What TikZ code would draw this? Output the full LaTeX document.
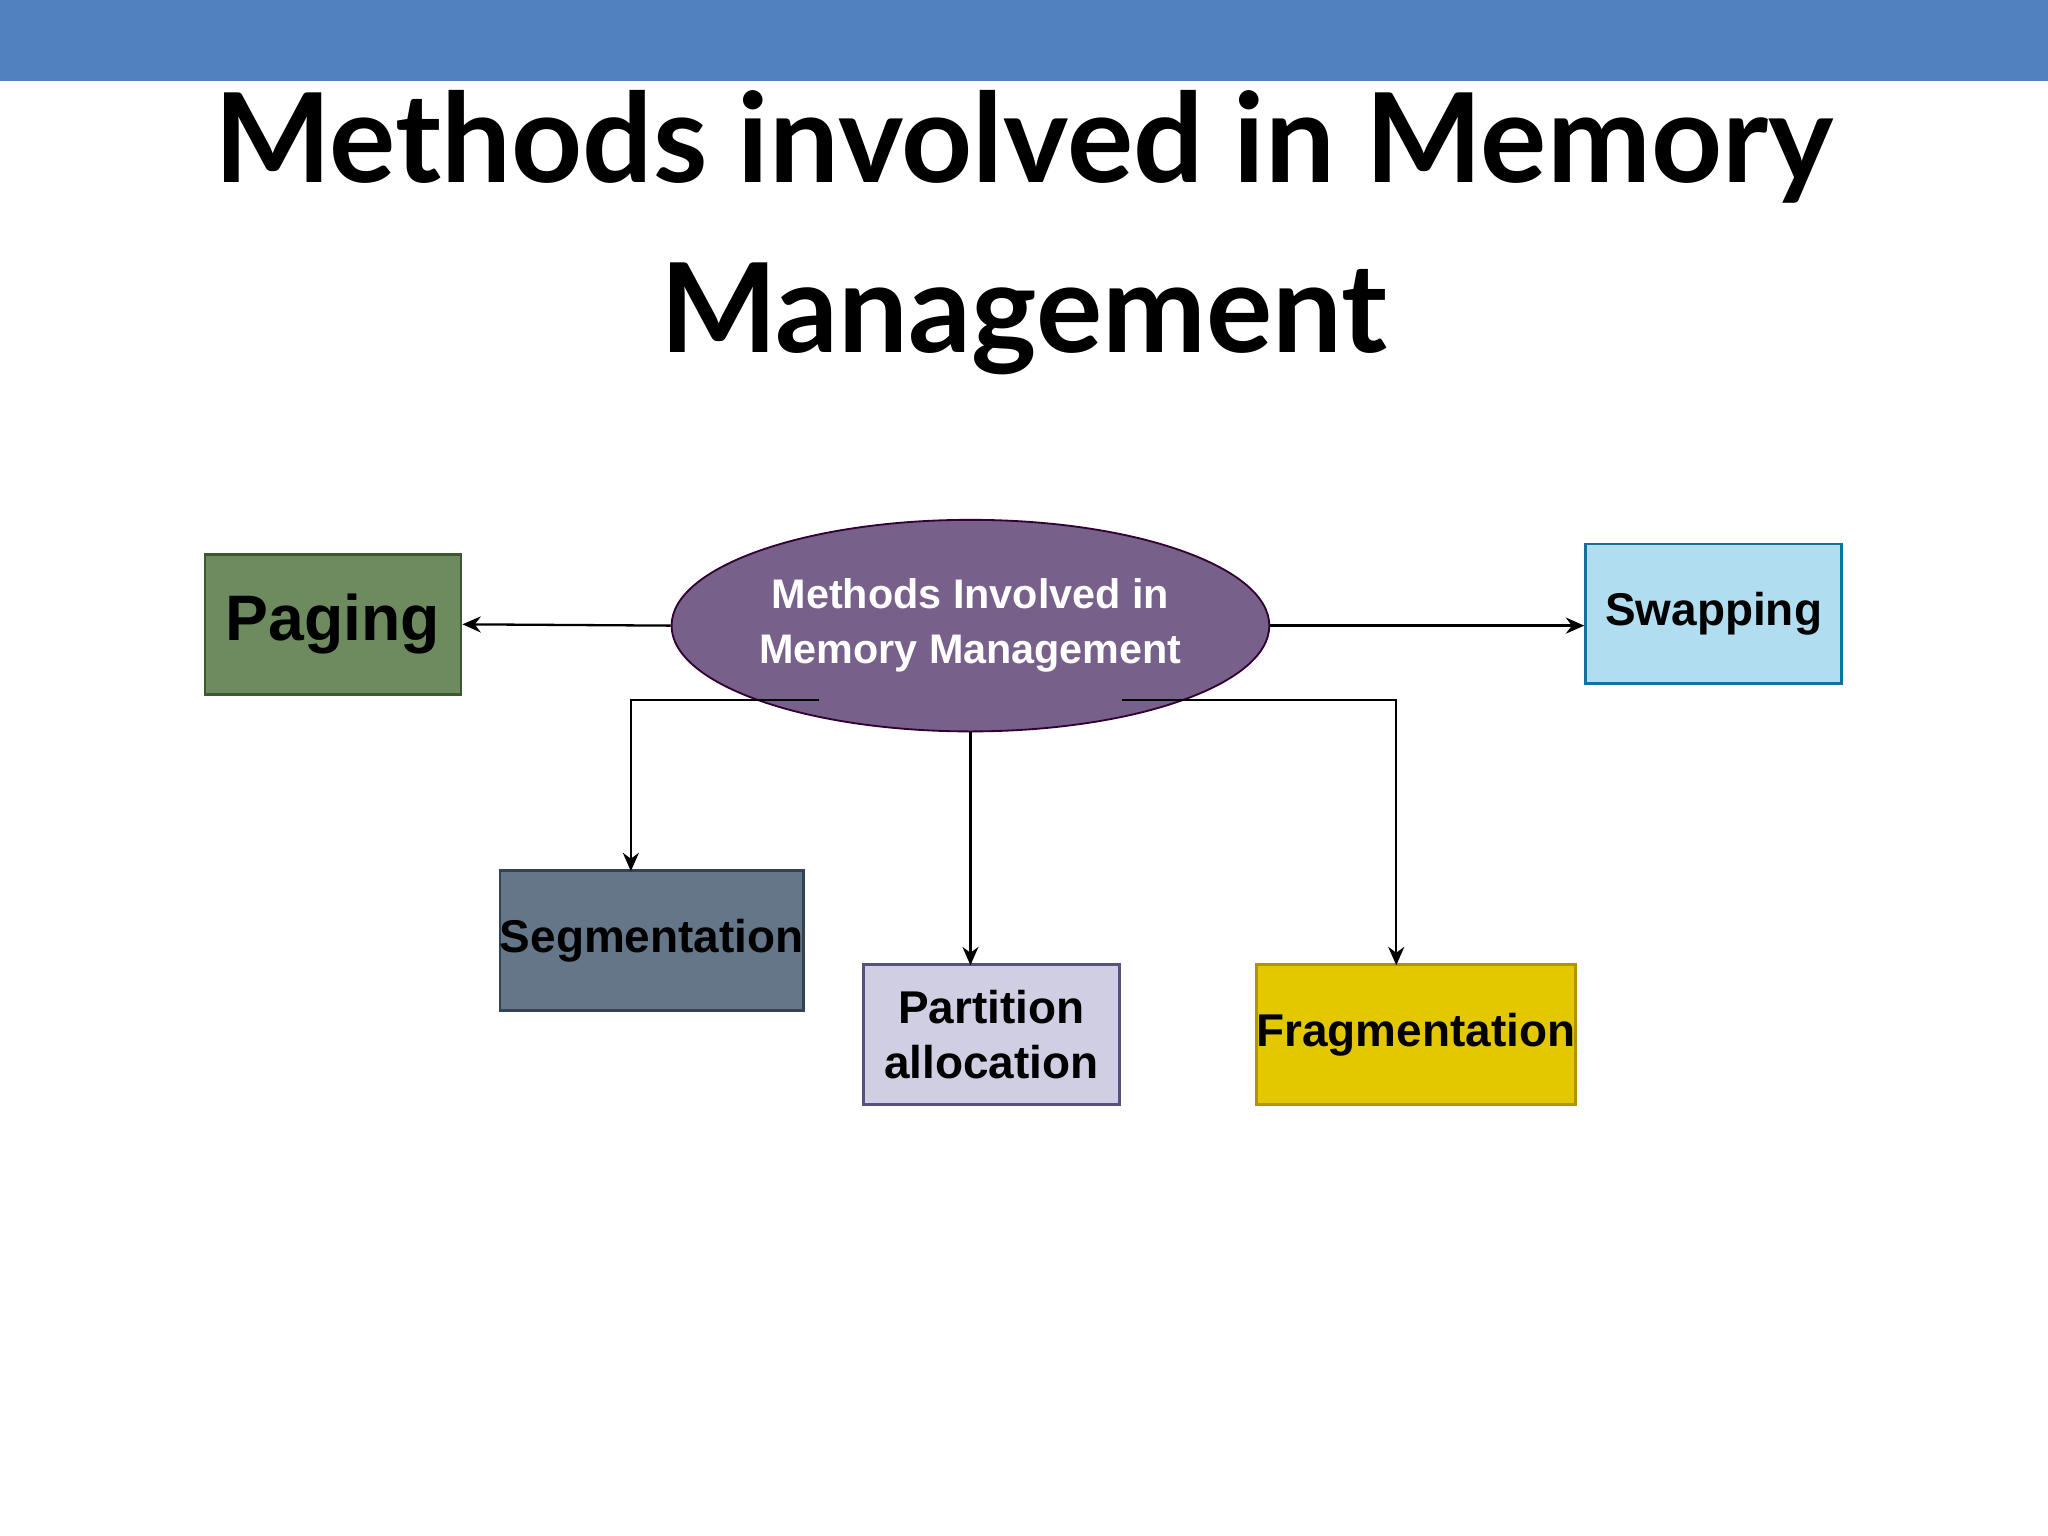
\documentclass[tikz,border=0pt]{standalone}
\usepackage{fontspec}
\setmainfont{Lato}
\newfontfamily\boxfont{Liberation Sans}
\usetikzlibrary{shapes.geometric,arrows.meta}
\definecolor{bar}{HTML}{5181BE}
\begin{document}
\begin{tikzpicture}[x=0.01cm,y=-0.01cm,
  box/.style={draw,line width=0.6pt,minimum width=196*0.01cm,minimum height=107*0.01cm,inner sep=0pt,align=center,font=\boxfont\bfseries\fontsize{10}{12}\selectfont},
  con/.style={draw,line width=0.5pt,-{Stealth[length=4pt,width=3.5pt]}}]
\useasboundingbox (0,0) rectangle (1568,1176);
\fill[bar] (0,0) rectangle (1568,62);
\node[font=\bfseries\fontsize{27}{37}\selectfont,align=center] (t) at (784,178) {Methods involved in Memory\\Management};
\node[ellipse,draw=black!60!violet,fill={rgb,255:red,119;green,96;blue,138},minimum width=326*0.01cm,minimum height=162*0.01cm,inner sep=0pt,align=center,text=white,font=\boxfont\bfseries\fontsize{9}{12}\selectfont] (e) at (743,479) {Methods Involved in\\Memory Management};
\node[box,fill={rgb,255:red,109;green,139;blue,94},draw={rgb,255:red,61;green,88;blue,48},font=\boxfont\bfseries\fontsize{14}{16}\selectfont] (p) at (255,478) {Paging};
\node[box,fill={rgb,255:red,177;green,221;blue,240},draw={rgb,255:red,16;green,115;blue,158}] (s) at (1312,470) {Swapping};
\node[box,fill={rgb,255:red,100;green,118;blue,135},draw={rgb,255:red,49;green,67;blue,84}] (g) at (499,720) {Segmentation};
\node[box,fill={rgb,255:red,208;green,206;blue,226},draw={rgb,255:red,86;green,81;blue,126}] (pa) at (759,792) {Partition\\allocation};
\node[box,fill={rgb,255:red,227;green,200;blue,0},draw={rgb,255:red,176;green,149;blue,0}] (f) at (1084,792) {Fragmentation};
\coordinate (sl) at (627,536);
\coordinate (sr) at (859,536);
\draw[con] (e.west) -- (p.east);
\draw[con] (e.east) -- (s.west |- e.east);
\draw[con] (sl) -- (483,536) -- (483,667);
\draw[con] (sr) -- (1069,536) -- (1069,739);
\draw[con] (e.south) -- (743,739);
\end{tikzpicture}
\end{document}
